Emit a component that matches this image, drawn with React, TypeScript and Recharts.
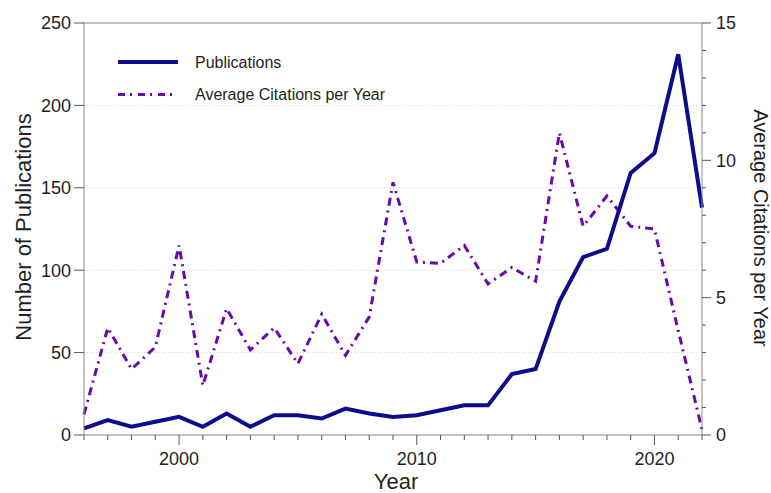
import React from 'react';
import { LineChart, Line, XAxis, YAxis, CartesianGrid, ReferenceLine, Legend, Label } from 'recharts';

const years = [
  1996, 1997, 1998, 1999, 2000, 2001, 2002, 2003, 2004, 2005, 2006, 2007, 2008, 2009,
  2010, 2011, 2012, 2013, 2014, 2015, 2016, 2017, 2018, 2019, 2020, 2021, 2022,
];
const publications = [
  4, 9, 5, 8, 11, 5, 13, 5, 12, 12, 10, 16, 13, 11,
  12, 15, 18, 18, 37, 40, 81, 108, 113, 159, 171, 231, 138,
];
const avgCitations = [
  0.75, 3.9, 2.4, 3.2, 6.9, 1.8, 4.6, 3.1, 3.9, 2.6, 4.4, 2.9, 4.3, 9.2,
  6.3, 6.25, 6.9, 5.5, 6.1, 5.6, 11.0, 7.6, 8.7, 7.6, 7.5, 3.8, 0.2,
];

const leftTicks = [0, 50, 100, 150, 200, 250];
const rightTicks = [0, 1, 2, 3, 4, 5, 6, 7, 8, 9, 10, 11, 12, 13, 14, 15];
const rightLabels = [0, 5, 10, 15];
const xLabels = [2000, 2010, 2020];

const seriesNames = { pubs: 'Publications', cites: 'Average Citations per Year' };

const data = years.map((year, i) => ({
  year,
  pubs: publications[i],
  cites: avgCitations[i],
}));

const FONT = "'Liberation Sans', Arial, Helvetica, sans-serif";
const TEXT = '#231f20';
const AXIS = '#8a8a8a';
const TICK = '#555555';
const NAVY = '#0c0c8c';
const PURPLE = '#6a08b0';
const DASH = '8 5 2 5';

const XTick = (props: any) => {
  const { x, y, payload } = props;
  const v = payload.value;
  const major = xLabels.includes(v);
  return (
    <g>
      <line x1={x} x2={x} y1={y} y2={y + (major ? 10 : 5)} stroke={TICK} strokeWidth={1} />
      {major && (
        <text x={x} y={y + 30} textAnchor="middle" fontSize={18} fontFamily={FONT} fill={TEXT}>
          {v}
        </text>
      )}
    </g>
  );
};

const LeftTick = (props: any) => {
  const { x, y, payload } = props;
  return (
    <g>
      <line x1={x - 10} x2={x} y1={y} y2={y} stroke={TICK} strokeWidth={1} />
      <text x={x - 13} y={y} dy="0.36em" textAnchor="end" fontSize={18} fontFamily={FONT} fill={TEXT}>
        {payload.value}
      </text>
    </g>
  );
};

const RightTick = (props: any) => {
  const { x, y, payload } = props;
  const v = payload.value;
  const major = rightLabels.includes(v);
  return (
    <g>
      <line x1={x} x2={x + (major ? 9 : 4)} y1={y} y2={y} stroke={TICK} strokeWidth={1} />
      {major && (
        <text x={x + 14} y={y} dy="0.36em" textAnchor="start" fontSize={18} fontFamily={FONT} fill={TEXT}>
          {v}
        </text>
      )}
    </g>
  );
};

const LegendBox = (props: any) => {
  const { payload } = props;
  const items = (payload || []).filter((p: any) => p.dataKey === 'pubs' || p.dataKey === 'cites');
  const order = ['pubs', 'cites'];
  items.sort((a: any, b: any) => order.indexOf(a.dataKey) - order.indexOf(b.dataKey));
  return (
    <svg width={300} height={60} style={{ display: 'block' }}>
      {items.map((item: any, i: number) => {
        const cy = 10 + i * 32.5;
        const isPubs = item.dataKey === 'pubs';
        return (
          <g key={item.dataKey}>
            <line
              x1={0}
              x2={60}
              y1={cy}
              y2={cy}
              stroke={item.color}
              strokeWidth={isPubs ? 4 : 3}
              strokeDasharray={isPubs ? undefined : '7 5 2 6'}
            />
            <text x={77} y={cy} dy="0.36em" fontSize={16} fontFamily={FONT} fill={TEXT}>
              {item.value}
            </text>
          </g>
        );
      })}
    </svg>
  );
};

export default function App() {
  return (
    <div style={{ position: 'absolute', left: 0, top: 0, width: 771, height: 493, background: '#fff' }}>
      <LineChart width={771} height={493} data={data} margin={{ top: 23, right: 0, bottom: 0, left: 0 }}>
        <CartesianGrid yAxisId="left" vertical={false} stroke="#d4d4d4" strokeDasharray="1 2" />
        <XAxis
          dataKey="year"
          type="number"
          domain={[1996, 2022]}
          ticks={years}
          interval={0}
          height={58}
          tickSize={0}
          tickMargin={0}
          tickLine={false}
          axisLine={{ stroke: AXIS }}
          tick={<XTick />}
        >
          <Label
            content={(p: any) => {
              const vb = p.viewBox;
              return (
                <text x={vb.x + vb.width / 2 + 3} y={vb.y + 54} textAnchor="middle" fontSize={22} fontFamily={FONT} fill={TEXT}>
                  Year
                </text>
              );
            }}
          />
        </XAxis>
        <YAxis
          yAxisId="left"
          orientation="left"
          width={84}
          domain={[0, 250]}
          ticks={leftTicks}
          interval={0}
          tickSize={0}
          tickMargin={0}
          tickLine={false}
          axisLine={{ stroke: AXIS }}
          tick={<LeftTick />}
        >
          <Label
            content={(p: any) => {
              const vb = p.viewBox;
              const cx = vb.x + 23;
              const cy = vb.y + vb.height / 2 - 2;
              return (
                <text x={cx} y={cy} transform={`rotate(-90 ${cx} ${cy})`} dy="0.36em" textAnchor="middle" fontSize={22} fontFamily={FONT} fill={TEXT}>
                  Number of Publications
                </text>
              );
            }}
          />
        </YAxis>
        <YAxis
          yAxisId="right"
          orientation="right"
          width={69}
          domain={[0, 15]}
          ticks={rightTicks}
          interval={0}
          tickSize={0}
          tickMargin={0}
          tickLine={false}
          axisLine={{ stroke: AXIS }}
          tick={<RightTick />}
        >
          <Label
            content={(p: any) => {
              const vb = p.viewBox;
              const cx = vb.x + 59;
              const cy = vb.y + vb.height / 2 - 1;
              return (
                <text x={cx} y={cy} transform={`rotate(90 ${cx} ${cy})`} dy="0.36em" textAnchor="middle" fontSize={20} fontFamily={FONT} fill={TEXT}>
                  Average Citations per Year
                </text>
              );
            }}
          />
        </YAxis>
        <ReferenceLine yAxisId="left" y={250} stroke={AXIS} strokeWidth={1} />
        <Legend
          layout="vertical"
          verticalAlign="middle"
          align="center"
          content={<LegendBox />}
          wrapperStyle={{ left: 118, top: 52, width: 300, height: 60 }}
        />
        <Line
          yAxisId="right"
          dataKey="cites"
          name={seriesNames.cites}
          type="linear"
          stroke={PURPLE}
          strokeWidth={3}
          strokeDasharray={DASH}
          dot={false}
          activeDot={false}
          isAnimationActive={false}
        />
        <Line
          yAxisId="left"
          dataKey="pubs"
          name={seriesNames.pubs}
          type="linear"
          stroke={NAVY}
          strokeWidth={4}
          dot={false}
          activeDot={false}
          isAnimationActive={false}
        />
      </LineChart>
    </div>
  );
}
